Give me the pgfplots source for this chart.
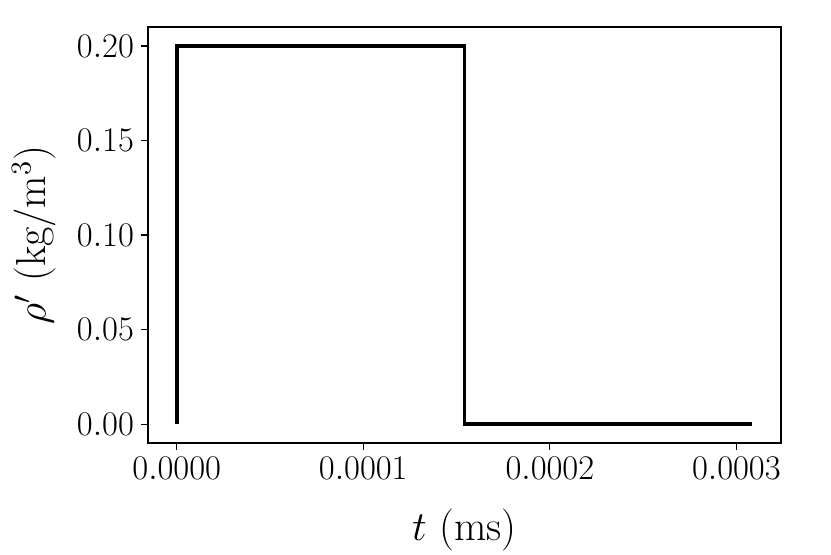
\documentclass[border=0pt]{standalone}
\usepackage{pgfplots}
\pgfplotsset{compat=1.18}
\begin{document}
\begin{tikzpicture}
\begin{axis}[
  at={(0,0)}, anchor=south west,
  scale only axis, width=316.5pt, height=208pt,
  xmin=-0.0000154, xmax=0.0003239,
  ymin=-0.01, ymax=0.21,
  axis line style={line width=0.7pt},
  xtick={0,0.0001,0.0002,0.0003},
  ytick={0,0.05,0.1,0.15,0.2},
  scaled ticks=false,
  xticklabel style={/pgf/number format/.cd, fixed, fixed zerofill, precision=4},
  yticklabel style={/pgf/number format/.cd, fixed, fixed zerofill, precision=2},
  tick label style={font=\fontsize{18}{22}\selectfont},
  tick align=outside, tick pos=left,
  major tick length=3.5pt,
  tick style={line width=0.6pt, black},
  xlabel={$t$ (ms)}, ylabel={$\rho'$ (kg/m$^3$)},
  label style={font=\fontsize{21}{25}\selectfont},
  xlabel style={at={(axis description cs:0.5,-0.21)}, anchor=center},
  ylabel style={at={(axis description cs:-0.18,0.5)}, anchor=center},
]
\addplot[black, line width=1.8pt, const plot] coordinates {
  (0,0) (0,0.2) (0.0001542,0.2) (0.0001542,0) (0.0003085,0)
};
\end{axis}
\pgfresetboundingbox
\path (-74pt,-55.5pt) rectangle (341.5pt,221.5pt);
\end{tikzpicture}
\end{document}
